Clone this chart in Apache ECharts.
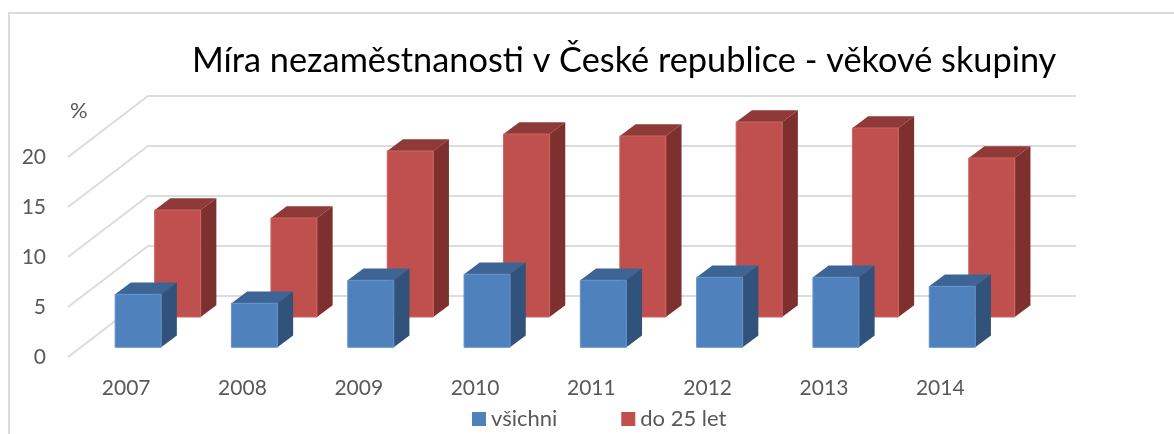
<!DOCTYPE html>
<html>
<head>
<meta charset="utf-8">
<style>html,body{margin:0;padding:0;background:#fff}#c{width:1174px;height:434px}</style>
<script src="https://cdn.jsdelivr.net/npm/echarts@6/dist/echarts.min.js"></script>
</head>
<body>
<div id="c"></div>
<script>
const categories = ['2007','2008','2009','2010','2011','2012','2013','2014'];
const vsichni = [5.3,4.4,6.7,7.3,6.7,7.0,7.0,6.1];
const do25 = [10.7,9.9,16.6,18.3,18.1,19.5,18.9,15.9];
const yTicks = [0,5,10,15,20];

const FONT = 'Lato, "Open Sans", sans-serif';
const depthX = 80, depthY = 61;      // projection of the full floor depth
const barW = 46, barDX = 15.7, barDY = 11.8;

function wall(params, api) {
  const p = api.coord([0, api.value(0)]);
  const cs = params.coordSys;
  const L = cs.x, R = cs.x + cs.width - 2.4, y = p[1];
  return { type: 'polyline', silent: true,
    shape: { points: [[L, y], [L + depthX, y - depthY], [R + depthX, y - depthY]] },
    style: { stroke: '#dcdcdc', lineWidth: 2, fill: null } };
}

function bar3d(dx, dy, front, top, side, edge) {
  return function (params, api) {
    const t = api.coord([api.value(0), api.value(1)]);
    const b = api.coord([api.value(0), 0]);
    const cx = t[0] + dx;
    const x0 = cx - barW / 2, x1 = cx + barW / 2;
    const yt = t[1] - dy, yb = b[1] - dy;
    return { type: 'group', children: [
      { type: 'polygon', shape: { points: [[x0, yt], [x1, yt], [x1 + barDX, yt - barDY], [x0 + barDX, yt - barDY]] }, style: { fill: top } },
      { type: 'polygon', shape: { points: [[x1, yt], [x1 + barDX, yt - barDY], [x1 + barDX, yb - barDY], [x1, yb]] }, style: { fill: side } },
      { type: 'rect', shape: { x: x0, y: yt, width: barW, height: yb - yt }, style: { fill: front, stroke: edge, lineWidth: 1 } }
    ] };
  };
}

const chart = echarts.init(document.getElementById('c'), null, { renderer: 'canvas' });
chart.setOption({
  animation: false,
  backgroundColor: '#ffffff',
  title: { text: 'Míra nezaměstnanosti v České republice - věkové skupiny', left: 187, top: 39,
    textStyle: { fontFamily: FONT, fontSize: 34.3, fontWeight: 'normal', color: '#000000' } },
  legend: { data: ['všichni', 'do 25 let'], left: 472, top: 408, padding: 0, itemWidth: 14, itemHeight: 14, itemGap: 64, icon: 'rect',
    textStyle: { fontFamily: FONT, fontSize: 22, color: '#595959' } },
  grid: { left: 68, top: 157, width: 930.4, height: 200 },
  xAxis: { type: 'category', data: categories, boundaryGap: true,
    axisLine: { show: false }, axisTick: { show: false }, splitLine: { show: false },
    axisLabel: { fontFamily: FONT, fontSize: 21, color: '#595959', margin: 21 } },
  yAxis: { type: 'value', min: 0, max: 20, interval: 5, name: '%', nameLocation: 'end', nameGap: 35,
    nameTextStyle: { fontFamily: FONT, fontSize: 22, color: '#595959', align: 'left', padding: [0,0,0,2] },
    axisLine: { show: false }, axisTick: { show: false }, splitLine: { show: false },
    axisLabel: { fontFamily: FONT, fontSize: 21, color: '#595959', margin: 22 } },
  tooltip: { show: false },
  series: [
    { type: 'custom', name: 'mrizka', renderItem: wall, data: yTicks.map(v => [v]), encode: { y: 0 }, z: 1, silent: true },
    { type: 'custom', name: 'do 25 let', renderItem: bar3d(51.5, 40, '#c0504d', '#8f3a38', '#7d302e', '#cb6461'),
      itemStyle: { color: '#c0504d' }, data: categories.map((c, i) => [i, do25[i]]), encode: { x: 0, y: 1 }, z: 2 },
    { type: 'custom', name: 'všichni', renderItem: bar3d(12, 9.7, '#4f81bd', '#3c6494', '#31527a', '#6392ca'),
      itemStyle: { color: '#4f81bd' }, data: categories.map((c, i) => [i, vsichni[i]]), encode: { x: 0, y: 1 }, z: 3 }
  ],
  graphic: [
    { type: 'polyline', silent: true, shape: { points: [[9, 434], [9, 13], [1174, 13]] }, style: { stroke: '#dcdcdc', lineWidth: 2, fill: null } }
  ]
});
</script>
</body>
</html>
